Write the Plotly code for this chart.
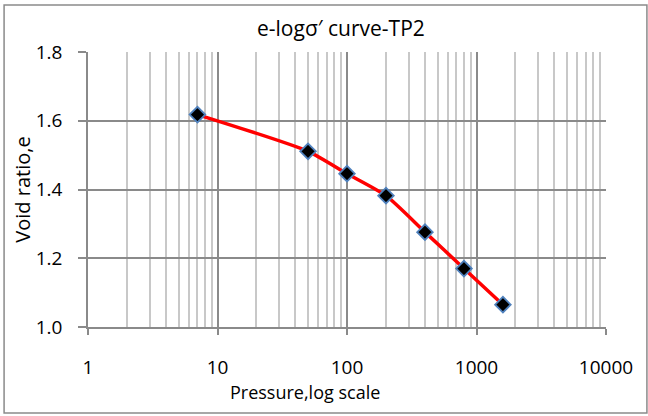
import plotly.graph_objects as go

# Consolidation test TP2: applied pressure vs void ratio
pressure = [7, 50, 100, 200, 400, 800, 1600]
void_ratio = [1.618, 1.511, 1.446, 1.382, 1.276, 1.170, 1.065]

x_ticks = [1, 10, 100, 1000, 10000]
x_tick_labels = ["1", "10", "100", "1000", "10000"]
y_ticks = [1.0, 1.2, 1.4, 1.6, 1.8]

FONT = "Open Sans"
MAJOR = "#8A8A8A"
MINOR = "#C8C8C8"

fig = go.Figure()
fig.add_trace(go.Scatter(
    x=pressure, y=void_ratio,
    mode="lines+markers",
    line=dict(color="#FF0000", width=3.5, shape="spline", smoothing=0.6),
    marker=dict(symbol="diamond", size=12, color="#000000",
                line=dict(color="#4F81BD", width=1.8)),
    showlegend=False,
))

fig.update_layout(
    width=648, height=416,
    margin=dict(l=88, r=42, t=52, b=89),
    paper_bgcolor="white", plot_bgcolor="white",
    font=dict(family=FONT, color="#000000"),
    xaxis=dict(
        type="log", range=[0, 4],
        tickvals=x_ticks, ticktext=x_tick_labels,
        tickfont=dict(size=19),
        showgrid=True, gridcolor=MAJOR, gridwidth=1.5,
        showline=True, linecolor=MAJOR, linewidth=1.5,
        ticks="outside", ticklen=6, tickcolor=MAJOR, tickwidth=1.5,
        ticklabelstandoff=16,
        minor=dict(dtick="D1", showgrid=True, gridcolor=MINOR, gridwidth=1.5, ticks=""),
        zeroline=False, mirror=False,
    ),
    yaxis=dict(
        range=[1.0, 1.8], tickvals=y_ticks, tickformat=".1f",
        tickfont=dict(size=19),
        showgrid=True, gridcolor=MAJOR, gridwidth=1.5,
        showline=True, linecolor=MAJOR, linewidth=1.5,
        ticks="outside", ticklen=8, tickcolor=MAJOR, tickwidth=1.5,
        ticklabelstandoff=12,
        zeroline=False,
    ),
    shapes=[dict(
        type="rect", xref="paper", yref="paper",
        x0=-0.162, x1=1.079, y0=-0.313, y1=1.171,
        line=dict(color=MAJOR, width=1.5), fillcolor="rgba(0,0,0,0)", layer="below",
    )],
    annotations=[
        dict(text="e-logσ′ curve-TP2", xref="paper", yref="paper",
             x=0.488, y=1.087, xanchor="center", yanchor="middle",
             showarrow=False, font=dict(size=21)),
        dict(text="Pressure,log scale", xref="paper", yref="paper",
             x=0.419, y=-0.236, xanchor="center", yanchor="middle",
             showarrow=False, font=dict(size=18)),
        dict(text="Void ratio,e", xref="paper", yref="paper",
             x=-0.127, y=0.5, xanchor="center", yanchor="middle",
             textangle=-90, showarrow=False, font=dict(size=20)),
    ],
)

fig.write_html("out.html")
